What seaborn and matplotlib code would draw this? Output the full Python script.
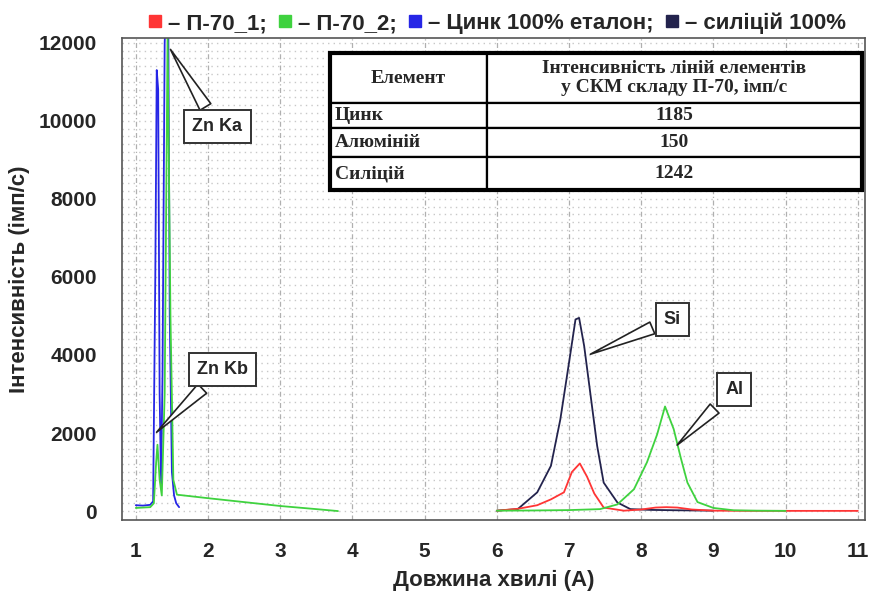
import matplotlib
matplotlib.use("Agg")
import matplotlib.pyplot as plt
from matplotlib.lines import Line2D
from matplotlib.patches import Rectangle
import seaborn as sns
import pandas as pd

# --- data ---
# Zinc 100% etalon (blue)
zn_x = [1.0, 1.1, 1.2, 1.24, 1.27, 1.29, 1.31, 1.33, 1.35, 1.37, 1.40, 1.43, 1.45, 1.47, 1.50, 1.53, 1.56, 1.60]
zn_y = [150, 140, 160, 250, 6000, 11300, 10800, 3000, 700, 3500, 12000, 13500, 12600, 5000, 1000, 400, 200, 100]
# П-70_2 (green)
p2_x = [1.0, 1.1, 1.2, 1.25, 1.28, 1.30, 1.33, 1.36, 1.40, 1.44, 1.48, 1.52, 1.57, 2.0, 2.5, 3.0, 3.5, 3.8,
        6.0, 6.5, 7.0, 7.43, 7.67, 7.90, 8.08, 8.22, 8.33, 8.45, 8.55, 8.64, 8.78, 9.0, 9.28, 9.6, 10.0]
p2_y = [80, 90, 100, 200, 1200, 1700, 800, 400, 3000, 12200, 5000, 800, 420, 330, 230, 130, 50, 0,
        10, 15, 25, 50, 170, 560, 1250, 1960, 2680, 2100, 1350, 730, 230, 80, 20, 10, 5]
# П-70_1 (red)
p1_x = [6.0, 6.3, 6.56, 6.75, 6.93, 7.04, 7.15, 7.25, 7.35, 7.48, 7.76, 8.0, 8.2, 8.35, 8.5, 8.7, 9.0, 9.5, 10.0, 10.5, 11.0]
p1_y = [10, 60, 150, 300, 480, 1000, 1220, 880, 450, 90, 10, 40, 90, 100, 90, 40, 10, 5, 5, 5, 5]
# силіцій 100% (navy)
si_x = [6.0, 6.29, 6.56, 6.75, 6.88, 7.0, 7.09, 7.14, 7.21, 7.30, 7.39, 7.48, 7.67, 7.85, 8.13, 8.5, 9.0]
si_y = [10, 50, 480, 1160, 2350, 3800, 4910, 4950, 4230, 2950, 1670, 730, 220, 50, 30, 20, 10]

series_names = ["П-70_1", "П-70_2", "Цинк 100% еталон", "силіцій 100%"]
series_colors = ["#ff3535", "#3fd23f", "#2626e6", "#23234d"]

table_header = ["Елемент", "Інтенсивність ліній елементів\nу СКМ складу П-70, імп/с"]
table_elements = ["Цинк", "Алюміній", "Силіцій"]
table_values = ["1185", "150", "1242"]

x_ticks = list(range(1, 12))
y_ticks = [0, 2000, 4000, 6000, 8000, 10000, 12000]

sns.set_theme(style="white")
sans = ["Liberation Sans Narrow", "Liberation Sans", "DejaVu Sans"]
plt.rcParams["font.family"] = sans

fig = plt.figure(figsize=(8.72, 6.04), dpi=100)
ax = fig.add_axes([0.14, 0.139, 0.852, 0.798])

frames = [
    pd.DataFrame({"x": p1_x, "y": p1_y}),
    pd.DataFrame({"x": p2_x[:18], "y": p2_y[:18]}),
    pd.DataFrame({"x": zn_x, "y": zn_y}),
    pd.DataFrame({"x": si_x, "y": si_y}),
]
# green right part drawn separately (gap between the two ranges)
green_right = pd.DataFrame({"x": p2_x[18:], "y": p2_y[18:]})

sns.lineplot(data=frames[3], x="x", y="y", ax=ax, color=series_colors[3], lw=1.3, sort=False)
sns.lineplot(data=frames[0], x="x", y="y", ax=ax, color=series_colors[0], lw=1.3, sort=False)
sns.lineplot(data=green_right, x="x", y="y", ax=ax, color=series_colors[1], lw=1.3, sort=False)
sns.lineplot(data=frames[2], x="x", y="y", ax=ax, color=series_colors[2], lw=1.3, sort=False)
sns.lineplot(data=frames[1], x="x", y="y", ax=ax, color=series_colors[1], lw=1.3, sort=False)

ax.set_xlim(0.81, 11.1)
ax.set_ylim(-230, 12120)
ax.set_xticks(x_ticks)
ax.set_yticks(y_ticks)
ax.set_yticks(range(0, 12200, 200), minor=True)
ax.grid(which="minor", axis="y", color="#c8c8c8", ls=(0, (1, 3)), lw=1.0)
ax.grid(which="major", axis="y", color="#c8c8c8", ls=(0, (1, 3)), lw=1.0)
ax.grid(which="major", axis="x", color="#b0b0b0", ls=(0, (4, 2, 1, 2)), lw=0.9)
for s in ax.spines.values():
    s.set_color("#555555")
    s.set_linewidth(1.2)
ax.tick_params(axis="x", pad=16, labelsize=15, length=0)
ax.tick_params(axis="y", pad=18, labelsize=15, length=0)
for lab in ax.get_xticklabels() + ax.get_yticklabels():
    lab.set_fontweight("bold")
ax.set_xlabel("Довжина хвилі (А)", fontsize=16, fontweight="bold", labelpad=6)
ax.set_ylabel("Інтенсивність (імп/с)", fontsize=16, fontweight="bold", labelpad=6)

# callouts
callouts = [
    ("Zn Ka", (1.46, 11890), (2.13, 9850)),
    ("Zn Kb", (1.26, 1970), (2.2, 3630)),
    ("Si", (7.26, 3990), (8.43, 4910)),
    ("Al", (8.47, 1640), (9.29, 3120)),
]
for txt, tip, pos in callouts:
    ax.annotate(txt, xy=tip, xytext=pos, ha="center", va="center",
                fontsize=13, fontweight="bold", family=["Liberation Sans", "DejaVu Sans"],
                bbox=dict(boxstyle="square,pad=0.45", fc="white", ec="#333333", lw=1.4),
                arrowprops=dict(arrowstyle="wedge,tail_width=0.7,shrink_factor=0.5",
                                fc="white", ec="#222222", lw=1.2))

# table
tbl = ax.table(cellText=[[e, v] for e, v in zip(table_elements, table_values)],
               colLabels=table_header, colWidths=[0.295, 0.705],
               bbox=[0.28, 0.685, 0.716, 0.283], zorder=5)
tbl.auto_set_font_size(False)
heights = {0: 0.36, 1: 0.19, 2: 0.21, 3: 0.24}
for (r, c), cell in tbl.get_celld().items():
    cell.set_height(heights[r])
    cell.set_linewidth(1.6)
    cell.set_edgecolor("black")
    cell.set_facecolor("white")
    t = cell.get_text()
    t.set_fontsize(14)
    t.set_fontweight("bold")
    t.set_family(["Liberation Serif", "DejaVu Serif"])
    if r > 0 and c == 0:
        t.set_ha("left")
        cell.PAD = 0.03
    else:
        t.set_ha("center")
ax.add_patch(Rectangle((0.28, 0.685), 0.716, 0.283, transform=ax.transAxes,
                       fill=False, ec="black", lw=3, zorder=6))

# legend on top
handles = [Line2D([], [], ls="none", marker="s", ms=8, mfc=c, mec=c) for c in series_colors]
labels = ["– П-70_1;", "– П-70_2;", "– Цинк 100% еталон;", "– силіцій 100%"]
fig.legend(handles, labels, loc="upper center", bbox_to_anchor=(0.57, 1.012), ncol=4,
           frameon=False, handlelength=0.6, handletextpad=0.3, columnspacing=0.5,
           prop=dict(family=sans, weight="bold", size=16))

fig.savefig("out.png", dpi=100)
